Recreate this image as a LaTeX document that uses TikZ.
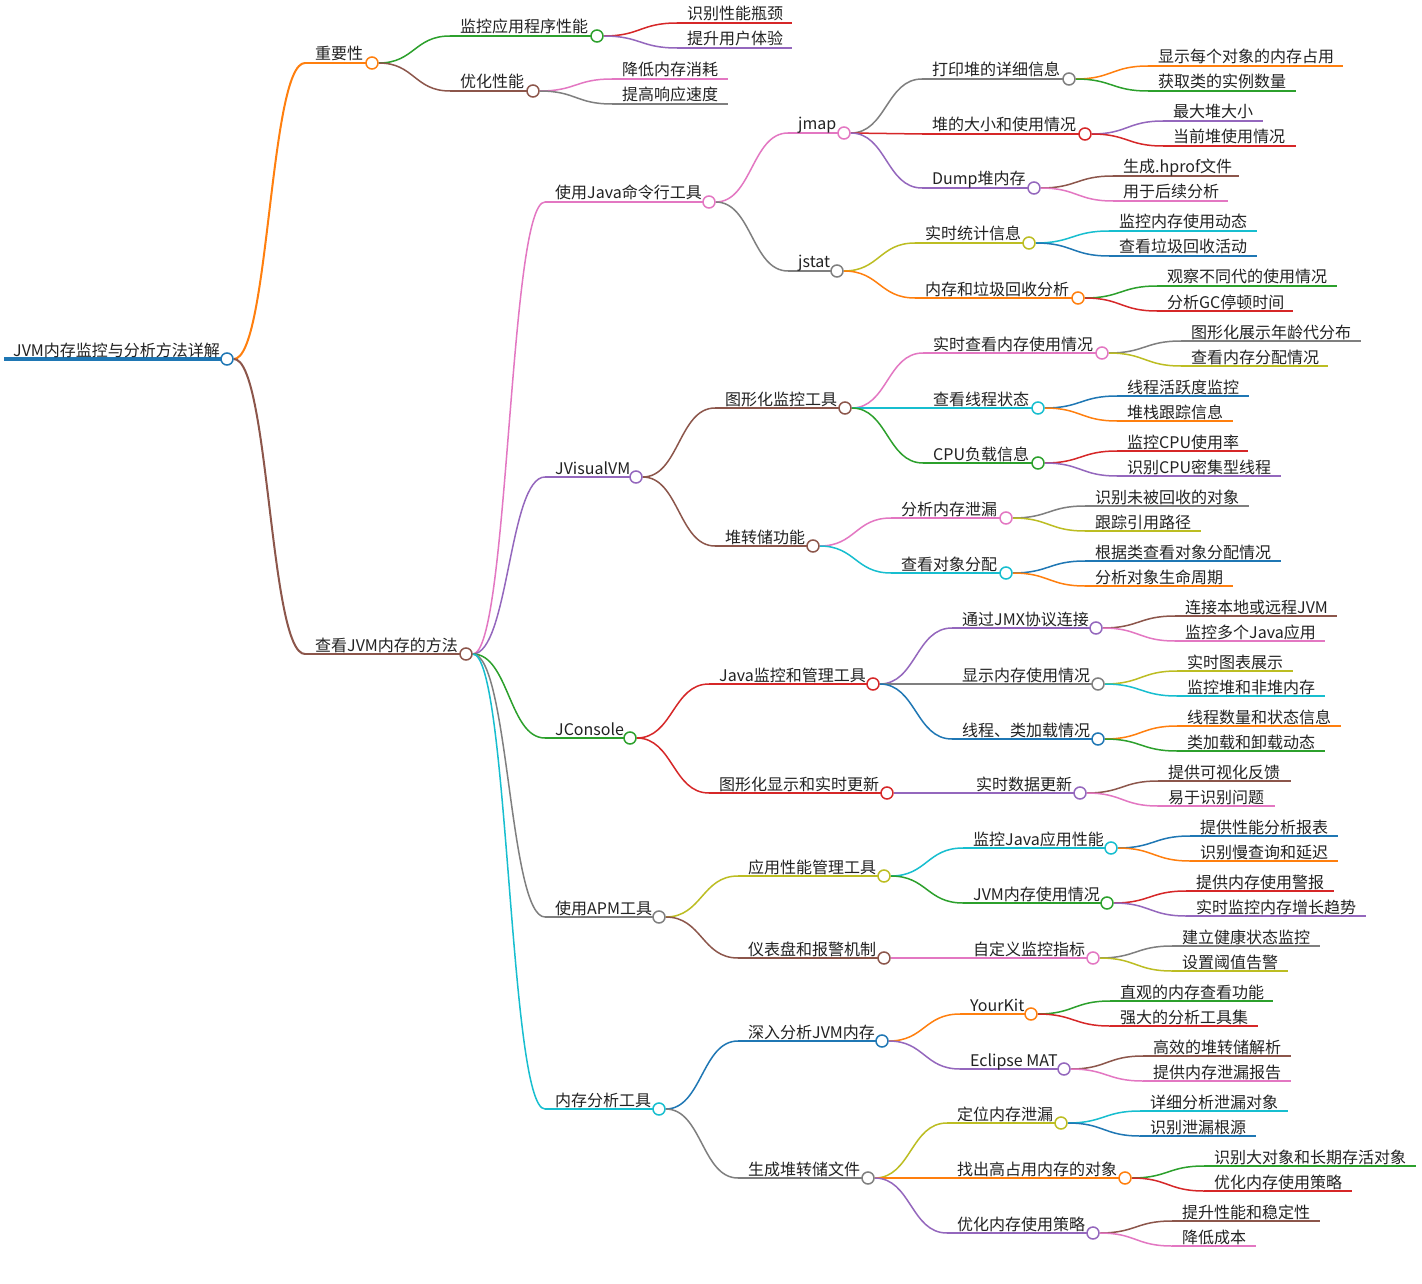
\documentclass[tikz,border=0pt]{standalone}
\usepackage{fontspec}
\newfontfamily\cjk{Noto Sans CJK SC}
\usetikzlibrary{calc}
\pgfdeclarelayer{bg}
\pgfsetlayers{bg,main}
\definecolor{cBlue}{HTML}{1F77B4}
\definecolor{cOrange}{HTML}{FF7F0E}
\definecolor{cGreen}{HTML}{2CA02C}
\definecolor{cRed}{HTML}{D62728}
\definecolor{cPurple}{HTML}{9467BD}
\definecolor{cBrown}{HTML}{8C564B}
\definecolor{cPink}{HTML}{E377C2}
\definecolor{cGray}{HTML}{7F7F7F}
\definecolor{cOlive}{HTML}{BCBD22}
\definecolor{cCyan}{HTML}{17BECF}
\definecolor{cText}{HTML}{222222}
\tikzset{
  mtext/.style={anchor=base west, inner sep=0pt, text=cText, font=\cjk\fontsize{16}{19}\selectfont},
  mcirc/.style={circle, fill=white, line width=1.5pt, minimum size=12pt, inner sep=0pt},
  mlink/.style={line width=1.5pt},
  uline/.style={line width=1.5pt},
}
% inner node: name, parent, start x, circle x, y, colour, text
\newcommand\mmInner[7]{%
  \coordinate (#1-s) at (#3,#5);
  \node[mcirc, draw=#6] (#1) at (#4,#5) {};
  \node[mtext] (#1-t) at (#3+10,#5-3) {#7};
  \begin{pgfonlayer}{bg}
    \draw[mlink, draw=#6] let \p1=(#2.east), \p2=(#1-s), \p3=($(\p1)!0.5!(\p2)$) in
      (\p1) .. controls (\x3,\y1) and (\x3,\y2) .. (\p2);
    \draw[uline, draw=#6] (#1-s) -- (#1.center);
  \end{pgfonlayer}
}
% leaf node: name, parent, start x, end x, y, colour, text
\newcommand\mmLeaf[7]{%
  \coordinate (#1-s) at (#3,#5);
  \coordinate (#1-e) at (#4,#5);
  \node[mtext] (#1-t) at (#3+10,#5-3) {#7};
  \begin{pgfonlayer}{bg}
    \draw[mlink, draw=#6] let \p1=(#2.east), \p2=(#1-s), \p3=($(\p1)!0.5!(\p2)$) in
      (\p1) .. controls (\x3,\y1) and (\x3,\y2) .. (\p2);
    \draw[uline, draw=#6] (#1-s) -- (#1-e);
  \end{pgfonlayer}
}
\begin{document}
\begin{tikzpicture}[x=1pt,y=-1pt]
\begin{pgfonlayer}{bg}
\fill[white] (0,0) rectangle (1422,1284);
\end{pgfonlayer}
\useasboundingbox (0,0) rectangle (1422,1284);
% root
\coordinate (root-s) at (4,359);
\node[mcirc, draw=cBlue] (root) at (227,359) {};
\node[mtext] (root-t) at (13,356) {JVM内存监控与分析方法详解};
\begin{pgfonlayer}{bg}
\draw[line width=3.5pt, cBlue] (root-s) -- (root.center);
\end{pgfonlayer}
\tikzset{mlink/.style={line width=2pt}, uline/.style={line width=2pt}}
\mmInner{imp}{root}{305}{372}{63}{cOrange}{重要性}
\mmInner{view}{root}{305}{466}{654}{cBrown}{查看JVM内存的方法}
\tikzset{mlink/.style={line width=1.5pt}, uline/.style={line width=1.5pt}}
% importance
\mmInner{mon}{imp}{450}{597}{36}{cGreen}{监控应用程序性能}
\mmInner{opt}{imp}{450}{533}{91}{cBrown}{优化性能}
\mmLeaf{mon1}{mon}{677}{792}{23}{cRed}{识别性能瓶颈}
\mmLeaf{mon2}{mon}{677}{792}{48}{cPurple}{提升用户体验}
\mmLeaf{opt1}{opt}{612}{728}{79}{cPink}{降低内存消耗}
\mmLeaf{opt2}{opt}{612}{728}{104}{cGray}{提高响应速度}
% methods
\mmInner{jcmd}{view}{545}{709}{202}{cPink}{使用Java命令行工具}
\mmInner{jvv}{view}{545}{636}{477}{cPurple}{JVisualVM}
\mmInner{jcon}{view}{545}{630}{738}{cGreen}{JConsole}
\mmInner{apm}{view}{545}{659}{917}{cGray}{使用APM工具}
\mmInner{mat}{view}{545}{659}{1109}{cCyan}{内存分析工具}
% java cmd tools
\mmInner{jmap}{jcmd}{788}{844}{133}{cPink}{jmap}
\mmInner{jstat}{jcmd}{788}{837}{271}{cGray}{jstat}
\mmInner{heap}{jmap}{922}{1069}{79}{cGray}{打印堆的详细信息}
\mmInner{size}{jmap}{922}{1085}{134}{cRed}{堆的大小和使用情况}
\mmInner{dump}{jmap}{922}{1034}{188}{cPurple}{Dump堆内存}
\mmLeaf{heap1}{heap}{1148}{1343}{66}{cOrange}{显示每个对象的内存占用}
\mmLeaf{heap2}{heap}{1148}{1296}{91}{cGreen}{获取类的实例数量}
\mmLeaf{size1}{size}{1163}{1263}{121}{cPurple}{最大堆大小}
\mmLeaf{size2}{size}{1163}{1296}{146}{cRed}{当前堆使用情况}
\mmLeaf{dump1}{dump}{1113}{1239}{176}{cBrown}{生成.hprof文件}
\mmLeaf{dump2}{dump}{1113}{1228}{201}{cPink}{用于后续分析}
\mmInner{stat}{jstat}{915}{1029}{243}{cOlive}{实时统计信息}
\mmInner{gc}{jstat}{915}{1078}{298}{cOrange}{内存和垃圾回收分析}
\mmLeaf{stat1}{stat}{1109}{1257}{231}{cCyan}{监控内存使用动态}
\mmLeaf{stat2}{stat}{1109}{1257}{256}{cBlue}{查看垃圾回收活动}
\mmLeaf{gc1}{gc}{1157}{1337}{286}{cGreen}{观察不同代的使用情况}
\mmLeaf{gc2}{gc}{1157}{1293}{311}{cRed}{分析GC停顿时间}
% JVisualVM
\mmInner{gmon}{jvv}{715}{845}{408}{cBrown}{图形化监控工具}
\mmInner{hdump}{jvv}{715}{813}{546}{cBrown}{堆转储功能}
\mmInner{rtmem}{gmon}{923}{1102}{353}{cPink}{实时查看内存使用情况}
\mmInner{thr}{gmon}{923}{1038}{408}{cCyan}{查看线程状态}
\mmInner{cpu}{gmon}{923}{1038}{463}{cGreen}{CPU负载信息}
\mmLeaf{rtmem1}{rtmem}{1181}{1361}{341}{cGray}{图形化展示年龄代分布}
\mmLeaf{rtmem2}{rtmem}{1181}{1328}{366}{cOlive}{查看内存分配情况}
\mmLeaf{thr1}{thr}{1117}{1249}{396}{cBlue}{线程活跃度监控}
\mmLeaf{thr2}{thr}{1117}{1233}{421}{cOrange}{堆栈跟踪信息}
\mmLeaf{cpu1}{cpu}{1117}{1248}{451}{cRed}{监控CPU使用率}
\mmLeaf{cpu2}{cpu}{1117}{1281}{476}{cPurple}{识别CPU密集型线程}
\mmInner{leak}{hdump}{891}{1006}{518}{cPink}{分析内存泄漏}
\mmInner{alloc}{hdump}{891}{1006}{573}{cCyan}{查看对象分配}
\mmLeaf{leak1}{leak}{1085}{1249}{506}{cGray}{识别未被回收的对象}
\mmLeaf{leak2}{leak}{1085}{1201}{531}{cOlive}{跟踪引用路径}
\mmLeaf{alloc1}{alloc}{1085}{1281}{561}{cBlue}{根据类查看对象分配情况}
\mmLeaf{alloc2}{alloc}{1085}{1233}{586}{cOrange}{分析对象生命周期}
% JConsole
\mmInner{jmx}{jcon}{709}{873}{684}{cRed}{Java监控和管理工具}
\mmInner{gdisp}{jcon}{709}{887}{793}{cRed}{图形化显示和实时更新}
\mmInner{conn}{jmx}{952}{1096}{628}{cPurple}{通过JMX协议连接}
\mmInner{showmem}{jmx}{952}{1098}{684}{cGray}{显示内存使用情况}
\mmInner{thrcls}{jmx}{952}{1098}{739}{cBlue}{线程、类加载情况}
\mmLeaf{conn1}{conn}{1175}{1337}{616}{cBrown}{连接本地或远程JVM}
\mmLeaf{conn2}{conn}{1175}{1325}{641}{cPink}{监控多个Java应用}
\mmLeaf{showmem1}{showmem}{1177}{1293}{671}{cOlive}{实时图表展示}
\mmLeaf{showmem2}{showmem}{1177}{1325}{696}{cCyan}{监控堆和非堆内存}
\mmLeaf{thrcls1}{thrcls}{1177}{1341}{726}{cOrange}{线程数量和状态信息}
\mmLeaf{thrcls2}{thrcls}{1177}{1325}{751}{cGreen}{类加载和卸载动态}
\mmInner{rtupd}{gdisp}{966}{1080}{793}{cPurple}{实时数据更新}
\mmLeaf{rtupd1}{rtupd}{1158}{1291}{781}{cBrown}{提供可视化反馈}
\mmLeaf{rtupd2}{rtupd}{1158}{1275}{806}{cPink}{易于识别问题}
% APM
\mmInner{apmt}{apm}{738}{884}{876}{cOlive}{应用性能管理工具}
\mmInner{dash}{apm}{738}{884}{958}{cBrown}{仪表盘和报警机制}
\mmInner{monj}{apmt}{963}{1111}{848}{cCyan}{监控Java应用性能}
\mmInner{jvmm}{apmt}{963}{1107}{903}{cGreen}{JVM内存使用情况}
\mmLeaf{monj1}{monj}{1190}{1338}{836}{cBlue}{提供性能分析报表}
\mmLeaf{monj2}{monj}{1190}{1338}{861}{cOrange}{识别慢查询和延迟}
\mmLeaf{jvmm1}{jvmm}{1186}{1334}{891}{cRed}{提供内存使用警报}
\mmLeaf{jvmm2}{jvmm}{1186}{1366}{916}{cPurple}{实时监控内存增长趋势}
\mmInner{cust}{dash}{963}{1093}{958}{cPink}{自定义监控指标}
\mmLeaf{cust1}{cust}{1172}{1320}{946}{cGray}{建立健康状态监控}
\mmLeaf{cust2}{cust}{1172}{1288}{971}{cOlive}{设置阈值告警}
% memory analysis tools
\mmInner{deep}{mat}{738}{882}{1041}{cBlue}{深入分析JVM内存}
\mmInner{gen}{mat}{738}{868}{1178}{cGray}{生成堆转储文件}
\mmInner{yk}{deep}{960}{1031}{1014}{cOrange}{YourKit}
\mmInner{emat}{deep}{960}{1064}{1069}{cPurple}{Eclipse MAT}
\mmLeaf{yk1}{yk}{1110}{1273}{1001}{cGreen}{直观的内存查看功能}
\mmLeaf{yk2}{yk}{1110}{1258}{1026}{cRed}{强大的分析工具集}
\mmLeaf{emat1}{emat}{1143}{1291}{1056}{cBrown}{高效的堆转储解析}
\mmLeaf{emat2}{emat}{1143}{1291}{1081}{cPink}{提供内存泄漏报告}
\mmInner{loc}{gen}{947}{1061}{1123}{cOlive}{定位内存泄漏}
\mmInner{find}{gen}{947}{1125}{1178}{cOrange}{找出高占用内存的对象}
\mmInner{optm}{gen}{947}{1093}{1233}{cPurple}{优化内存使用策略}
\mmLeaf{loc1}{loc}{1140}{1288}{1111}{cCyan}{详细分析泄漏对象}
\mmLeaf{loc2}{loc}{1140}{1256}{1136}{cBlue}{识别泄漏根源}
\mmLeaf{find1}{find}{1204}{1416}{1166}{cGreen}{识别大对象和长期存活对象}
\mmLeaf{find2}{find}{1204}{1352}{1191}{cRed}{优化内存使用策略}
\mmLeaf{optm1}{optm}{1172}{1320}{1221}{cBrown}{提升性能和稳定性}
\mmLeaf{optm2}{optm}{1172}{1256}{1246}{cPink}{降低成本}
\end{tikzpicture}
\end{document}
